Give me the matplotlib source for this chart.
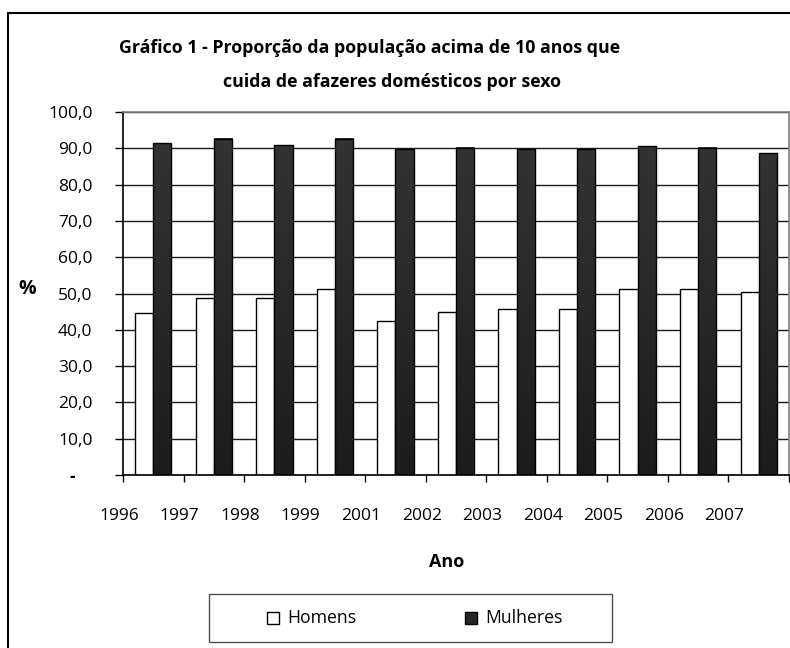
import numpy as np
import matplotlib
matplotlib.use('Agg')
from matplotlib import pyplot as plt
from matplotlib import patches, transforms

plt.rcParams['font.family'] = ['Open Sans', 'DejaVu Sans']

# Data
anos = ['1996', '1997', '1998', '1999', '2001', '2002', '2003',
        '2004', '2005', '2006', '2007']
homens = [44.5, 48.8, 48.8, 51.2, 42.4, 44.8, 45.6, 45.6, 51.2, 51.2, 50.4]
mulheres = [91.4, 92.6, 90.9, 92.6, 89.7, 90.2, 89.7, 89.7, 90.5, 90.2, 88.6]

fig = plt.figure(figsize=(7.9, 6.48), dpi=100)
ax = fig.add_axes([123/790, 1 - 475/648, (789 - 123)/790, (475 - 112)/648])

n = len(anos)
x = np.arange(n)
w = 0.3

# grid behind bars
ax.set_axisbelow(True)
ax.yaxis.grid(True, color='#1a1a1a', linewidth=1.0)

ax.bar(x + 0.35, homens, w, color='white', edgecolor='black', linewidth=1.0, zorder=2)
bars = ax.bar(x + 0.65, mulheres, w, color='#262626', edgecolor='black', linewidth=1.0, zorder=3)

# vertical gradient on the dark bars
grad = np.linspace(0, 1, 256).reshape(-1, 1)
cmap = matplotlib.colors.LinearSegmentedColormap.from_list('g', ['#1c1c1c', '#333333'])
for b in bars:
    x0, y0 = b.get_x(), b.get_y()
    ax.imshow(grad, extent=[x0, x0 + b.get_width(), y0, y0 + b.get_height()],
              origin='lower', cmap=cmap, aspect='auto', zorder=2.5)
    b.set_facecolor('none')
ax.set_xlim(0, n)
ax.set_ylim(0, 100)

# ticks
ax.set_yticks(np.arange(0, 101, 10))
ax.set_yticklabels(['-'] + [f'{v:.1f}'.replace('.', ',') for v in range(10, 101, 10)])
ax.set_xticks(np.arange(0, n + 1))
ax.set_xticklabels(anos + [''])
ax.tick_params(axis='y', direction='out', length=6, width=1, pad=16, labelsize=12.5)
ax.tick_params(axis='x', direction='out', length=5, width=1, pad=19, labelsize=12.5)
off = transforms.ScaledTranslation(-4/100, 0, fig.dpi_scale_trans)
for lab in ax.get_xticklabels():
    lab.set_transform(lab.get_transform() + off)
# the zero label "-" sits further left, and bolder
zlab = ax.get_yticklabels()[0]
zlab.set_transform(zlab.get_transform() + transforms.ScaledTranslation(-17/100, 0, fig.dpi_scale_trans))
zlab.set_fontweight('bold')

for s in ['left', 'bottom']:
    ax.spines[s].set_color('black')
    ax.spines[s].set_linewidth(1.2)
for s in ['top', 'right']:
    ax.spines[s].set_color('#808080')
    ax.spines[s].set_linewidth(1.2)

# titles and axis labels
fig.text(370/790, 1 - 48/648, 'Gráfico 1 - Proporção da população acima de 10 anos que',
         ha='center', va='center', fontsize=12.8, fontweight='bold')
fig.text(392/790, 1 - 82/648, 'cuida de afazeres domésticos por sexo',
         ha='center', va='center', fontsize=12.8, fontweight='bold')
fig.text(27/790, 1 - 289/648, '%', ha='center', va='center', fontsize=14, fontweight='bold')
fig.text(447/790, 1 - 562/648, 'Ano', ha='center', va='center', fontsize=13, fontweight='bold')

# legend box drawn by hand
fig.patches.append(patches.Rectangle((209/790, 1 - 642/648), 403/790, 48/648,
                                     transform=fig.transFigure, fill=False,
                                     edgecolor='#505050', linewidth=1.0))
ly = 1 - 618/648
fig.patches.append(patches.Rectangle((267/790, ly - 6/648), 12/790, 12/648,
                                     transform=fig.transFigure, facecolor='white',
                                     edgecolor='black', linewidth=1.0))
fig.patches.append(patches.Rectangle((465/790, ly - 6/648), 12/790, 12/648,
                                     transform=fig.transFigure, facecolor='#262626',
                                     edgecolor='black', linewidth=1.0))
fig.text(287/790, ly, 'Homens', ha='left', va='center', fontsize=12.7)
fig.text(485/790, ly, 'Mulheres', ha='left', va='center', fontsize=12.7)

# outer frame of the chart area
fig.patches.append(patches.Rectangle((8/790, -0.1), 1.2, (648 - 13)/648 + 0.1,
                                     transform=fig.transFigure, fill=False,
                                     edgecolor='black', linewidth=1.5))

fig.savefig('out.png', dpi=100)
